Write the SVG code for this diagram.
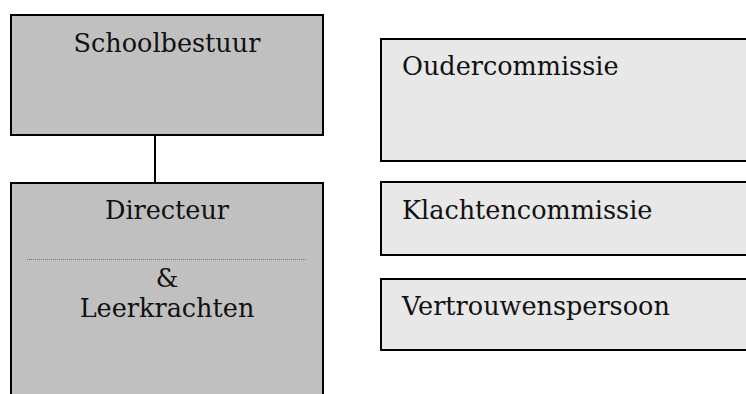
<svg xmlns="http://www.w3.org/2000/svg" width="746" height="394" viewBox="0 0 746 394">
<style>
.dark{fill:#c0c0c0;stroke:#000;stroke-width:2}
.light{fill:#e8e8e8;stroke:#000;stroke-width:2}
text{font-family:"DejaVu Serif","Liberation Serif",serif;font-size:25.5px;fill:#111}
.c{text-anchor:middle}
.conn{stroke:#000;stroke-width:2;fill:none}
</style>
<g id="connectors">
<line class="conn" x1="155" y1="135" x2="155" y2="183"/>
</g>
<g id="schoolbestuur">
<rect class="dark" x="11" y="15" width="312" height="120"/>
<text class="c" x="167" y="52">Schoolbestuur</text>
</g>
<g id="directeur">
<rect class="dark" x="11" y="183" width="312" height="230"/>
<text class="c" x="167" y="219">Directeur</text>
<line x1="27" y1="259.5" x2="307" y2="259.5" stroke="#777" stroke-width="1" stroke-dasharray="1,1"/>
<text class="c" x="167" y="287">&amp;</text>
<text class="c" x="167" y="317">Leerkrachten</text>
</g>
<g id="oudercommissie">
<rect class="light" x="381" y="39" width="380" height="122"/>
<text x="402" y="75">Oudercommissie</text>
</g>
<g id="klachtencommissie">
<rect class="light" x="381" y="182" width="380" height="73"/>
<text x="402" y="219">Klachtencommissie</text>
</g>
<g id="vertrouwenspersoon">
<rect class="light" x="381" y="279" width="380" height="71"/>
<text x="402" y="315">Vertrouwenspersoon</text>
</g>
</svg>
